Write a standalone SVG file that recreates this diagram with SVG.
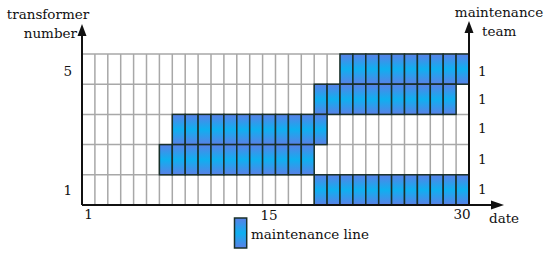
<svg xmlns="http://www.w3.org/2000/svg" width="550" height="255" viewBox="0 0 550 255">
<style>
text{font-family:"DejaVu Serif","Liberation Serif",serif;font-size:13.5px;fill:#111}
.grid{stroke:#a8a8a8;stroke-width:1.5;fill:none}
.ax{stroke:#111;stroke-width:2;fill:none}
.c{fill:url(#bg);stroke:#18302a;stroke-width:1.5}
</style>
<defs>
<linearGradient id="bg" x1="0" y1="0" x2="0" y2="1">
<stop offset="0" stop-color="#5a80e6"/>
<stop offset="0.5" stop-color="#0eb0f0"/>
<stop offset="1" stop-color="#5a80e6"/>
</linearGradient>
<symbol id="cell" overflow="visible"><rect class="c" x="0" y="0" width="12.9" height="30.2"/></symbol>
</defs>
<g id="grid">
<rect x="0" y="0" width="550" height="255" fill="#fff"/>
<path class="grid" d="M82 54H469M82 84.2H469M82 114.4H469M82 144.6H469M82 174.8H469M94.9 54V205M107.8 54V205M120.7 54V205M133.6 54V205M146.5 54V205M159.4 54V205M172.3 54V205M185.2 54V205M198.1 54V205M211 54V205M223.9 54V205M236.8 54V205M249.7 54V205M262.6 54V205M275.5 54V205M288.4 54V205M301.3 54V205M314.2 54V205M327.1 54V205M340 54V205M352.9 54V205M365.8 54V205M378.7 54V205M391.6 54V205M404.5 54V205M417.4 54V205M430.3 54V205M443.2 54V205M456.1 54V205"/>
</g>
<g id="transformer5">
<use href="#cell" x="340" y="54"/><use href="#cell" x="352.9" y="54"/><use href="#cell" x="365.8" y="54"/><use href="#cell" x="378.7" y="54"/><use href="#cell" x="391.6" y="54"/><use href="#cell" x="404.5" y="54"/><use href="#cell" x="417.4" y="54"/><use href="#cell" x="430.3" y="54"/><use href="#cell" x="443.2" y="54"/><use href="#cell" x="456.1" y="54"/>
</g>
<g id="transformer4">
<use href="#cell" x="314.2" y="84.2"/><use href="#cell" x="327.1" y="84.2"/><use href="#cell" x="340" y="84.2"/><use href="#cell" x="352.9" y="84.2"/><use href="#cell" x="365.8" y="84.2"/><use href="#cell" x="378.7" y="84.2"/><use href="#cell" x="391.6" y="84.2"/><use href="#cell" x="404.5" y="84.2"/><use href="#cell" x="417.4" y="84.2"/><use href="#cell" x="430.3" y="84.2"/><use href="#cell" x="443.2" y="84.2"/>
</g>
<g id="transformer3">
<use href="#cell" x="172.3" y="114.4"/><use href="#cell" x="185.2" y="114.4"/><use href="#cell" x="198.1" y="114.4"/><use href="#cell" x="211" y="114.4"/><use href="#cell" x="223.9" y="114.4"/><use href="#cell" x="236.8" y="114.4"/><use href="#cell" x="249.7" y="114.4"/><use href="#cell" x="262.6" y="114.4"/><use href="#cell" x="275.5" y="114.4"/><use href="#cell" x="288.4" y="114.4"/><use href="#cell" x="301.3" y="114.4"/><use href="#cell" x="314.2" y="114.4"/>
</g>
<g id="transformer2">
<use href="#cell" x="159.4" y="144.6"/><use href="#cell" x="172.3" y="144.6"/><use href="#cell" x="185.2" y="144.6"/><use href="#cell" x="198.1" y="144.6"/><use href="#cell" x="211" y="144.6"/><use href="#cell" x="223.9" y="144.6"/><use href="#cell" x="236.8" y="144.6"/><use href="#cell" x="249.7" y="144.6"/><use href="#cell" x="262.6" y="144.6"/><use href="#cell" x="275.5" y="144.6"/><use href="#cell" x="288.4" y="144.6"/><use href="#cell" x="301.3" y="144.6"/>
</g>
<g id="transformer1">
<use href="#cell" x="314.2" y="174.8"/><use href="#cell" x="327.1" y="174.8"/><use href="#cell" x="340" y="174.8"/><use href="#cell" x="352.9" y="174.8"/><use href="#cell" x="365.8" y="174.8"/><use href="#cell" x="378.7" y="174.8"/><use href="#cell" x="391.6" y="174.8"/><use href="#cell" x="404.5" y="174.8"/><use href="#cell" x="417.4" y="174.8"/><use href="#cell" x="430.3" y="174.8"/><use href="#cell" x="443.2" y="174.8"/><use href="#cell" x="456.1" y="174.8"/>
</g>
<g id="axes">
<path class="ax" d="M82 205V34M469 205V31M82 205H492"/>
<polygon points="82,24 77.5,36 86.5,36" fill="#111"/>
<polygon points="469,21 464.5,33 473.5,33" fill="#111"/>
<polygon points="504,205 491,200.5 491,209.5" fill="#111"/>
</g>
<g id="labels">
<text x="48" y="19" text-anchor="middle">transformer</text>
<text x="77" y="37.5" text-anchor="end">number</text>
<text x="72" y="76" text-anchor="end">5</text>
<text x="72" y="195" text-anchor="end">1</text>
<text x="499" y="17" text-anchor="middle">maintenance</text>
<text x="482" y="36">team</text>
<text x="478" y="76">1</text>
<text x="478" y="104">1</text>
<text x="478" y="133">1</text>
<text x="478" y="164">1</text>
<text x="478" y="194">1</text>
<text x="88.5" y="219" text-anchor="middle">1</text>
<text x="269" y="220" text-anchor="middle">15</text>
<text x="462" y="219" text-anchor="middle">30</text>
<text x="489" y="223">date</text>
</g>
<g id="legend">
<rect class="c" x="234.5" y="218" width="12.2" height="30"/>
<text x="251" y="239">maintenance line</text>
</g>
</svg>
